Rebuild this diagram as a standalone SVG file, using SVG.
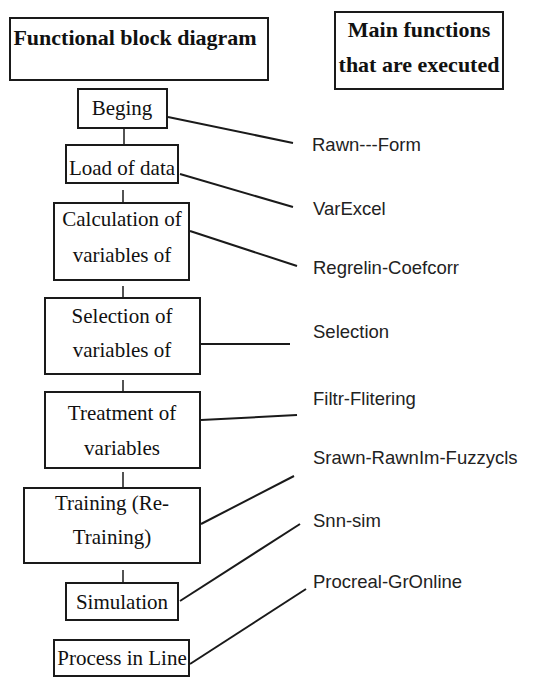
<svg xmlns="http://www.w3.org/2000/svg" width="549" height="677" viewBox="0 0 549 677">
<style>
.box{fill:#fff;stroke:#1a1a1a;stroke-width:2}
.t{font-family:"Liberation Serif","Times New Roman",serif;font-size:21px;fill:#111;text-anchor:middle}
.h{font-family:"Liberation Serif","Times New Roman",serif;font-size:22px;font-weight:bold;fill:#111;text-anchor:middle}
.s{font-family:"Liberation Sans",Arial,sans-serif;font-size:18.5px;fill:#222}
.c{stroke:#1a1a1a;stroke-width:2;fill:none}
.k{stroke:#1a1a1a;stroke-width:1.5;fill:none}
</style>
<rect width="549" height="677" fill="#fff"/>
<g id="header-left"><rect class="box" x="10" y="18" width="258" height="62"/><text class="h" x="135" y="45">Functional block diagram</text></g>
<g id="header-right"><rect class="box" x="335" y="12" width="168" height="77"/><text class="h" x="419" y="37">Main functions</text><text class="h" x="419" y="72">that are executed</text></g>
<g id="connectors">
<line class="k" x1="124" y1="128" x2="124" y2="152"/>
<line class="k" x1="123" y1="190" x2="123" y2="207"/>
<line class="k" x1="123" y1="286" x2="123" y2="302"/>
<line class="k" x1="123" y1="380" x2="123" y2="397"/>
<line class="k" x1="123" y1="472" x2="123" y2="492"/>
<line class="k" x1="123" y1="570" x2="123" y2="590"/>
<line class="c" x1="168" y1="117" x2="293" y2="143"/>
<line class="c" x1="180" y1="174" x2="293" y2="207"/>
<line class="c" x1="190" y1="231" x2="297" y2="266"/>
<line class="c" x1="201" y1="344" x2="290" y2="344"/>
<line class="c" x1="201" y1="420" x2="297" y2="415"/>
<line class="c" x1="201" y1="524" x2="294" y2="476"/>
<line class="c" x1="180" y1="601" x2="300" y2="524"/>
<line class="c" x1="190" y1="664" x2="306" y2="589"/>
</g>
<g id="beging"><rect class="box" x="78" y="89" width="89" height="39"/><text class="t" x="122" y="115">Beging</text></g>
<g id="load"><rect class="box" x="66" y="145" width="112" height="38"/><text class="t" x="122" y="175">Load of data</text></g>
<g id="calc"><rect class="box" x="54" y="203" width="135" height="77"/><text class="t" x="122" y="226">Calculation of</text><text class="t" x="122" y="262">variables of</text></g>
<g id="selection"><rect class="box" x="45" y="298" width="155" height="76"/><text class="t" x="122" y="323">Selection of</text><text class="t" x="122" y="357">variables of</text></g>
<g id="treatment"><rect class="box" x="45" y="392" width="155" height="76"/><text class="t" x="122" y="420">Treatment of</text><text class="t" x="122" y="455">variables</text></g>
<g id="training"><rect class="box" x="24" y="488" width="176" height="75"/><text class="t" x="112" y="510">Training (Re-</text><text class="t" x="112" y="544">Training)</text></g>
<g id="simulation"><rect class="box" x="66" y="583" width="112" height="37"/><text class="t" x="122" y="609">Simulation</text></g>
<g id="process"><rect class="box" x="54" y="640" width="135" height="36"/><text class="t" x="122" y="665">Process in Line</text></g>
<g id="labels">
<text class="s" x="312" y="151">Rawn---Form</text>
<text class="s" x="313" y="215">VarExcel</text>
<text class="s" x="313" y="274">Regrelin-Coefcorr</text>
<text class="s" x="313" y="338">Selection</text>
<text class="s" x="313" y="405">Filtr-Flitering</text>
<text class="s" x="313" y="464">Srawn-RawnIm-Fuzzycls</text>
<text class="s" x="313" y="527">Snn-sim</text>
<text class="s" x="313" y="588">Procreal-GrOnline</text>
</g>
</svg>
